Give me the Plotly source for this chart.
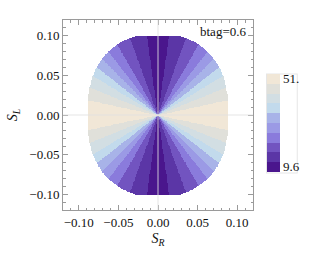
import numpy as np
import plotly.graph_objects as go

# ---- data ----
# angle (deg, measured from the S_R axis) where the colour band changes
band_edges_deg = [12, 22, 31, 38, 45, 52, 60, 70, 82]
# band value from horizontal (high) to vertical (low)
band_values = [48.93, 44.79, 40.65, 36.51, 32.37, 28.23, 24.09, 19.95, 15.81, 11.67]
# colours of the legend bands, from low to high
band_colors = ["#4A168D", "#5B36A6", "#7254C0", "#8A7BDC", "#9B9AE5",
               "#A8B3E8", "#C2DAEC", "#D2DEE3", "#E0E0DA", "#F1E7D7"]
zmin_val, zmax_val = 9.6, 51.0
cbar_tickvals = [11.67, 48.93]
cbar_ticktext = ["9.6", "51."]
x_ticks = [-0.10, -0.05, 0.00, 0.05, 0.10]
y_ticks = [-0.10, -0.05, 0.00, 0.05, 0.10]
label_text = "btag=0.6"

# region shape (allowed domain)
ax_r, ay_r, px_exp, py_exp, y_clip = 0.089, 0.104, 2.0, 2.6, 0.1

xs = np.linspace(-0.09, 0.09, 241)
ys = np.linspace(-0.101, 0.101, 271)
X, Y = np.meshgrid(xs, ys)
theta = np.degrees(np.arctan2(np.abs(Y), np.abs(X)))
idx = np.searchsorted(np.array(band_edges_deg), theta)
Z = np.array(band_values)[idx].astype(float)
inside = ((np.abs(X) / ax_r) ** px_exp + (np.abs(Y) / ay_r) ** py_exp <= 1.0) & (np.abs(Y) <= y_clip)
Z[~inside] = np.nan

n = len(band_colors)
cs = []
for k, c in enumerate(band_colors):
    cs.append([k / n, c])
    cs.append([(k + 1) / n, c])

serif = "Liberation Serif"

fig = go.Figure()
fig.add_trace(go.Heatmap(
    x=xs, y=ys, z=Z, zmin=zmin_val, zmax=zmax_val, colorscale=cs,
    zsmooth=False, hoverinfo="skip",
    colorbar=dict(
        x=1.074, xanchor="left", xpad=0, y=0.459, yanchor="middle", ypad=0,
        len=98, lenmode="pixels", thickness=13, thicknessmode="pixels",
        outlinewidth=0, tickvals=cbar_tickvals, ticktext=cbar_ticktext,
        ticks="", ticklabelposition="outside",
        tickfont=dict(family=serif, size=13, color="#111"),
        bordercolor="#e6e6e6", borderwidth=1, bgcolor="white",
    ),
))

frame = "#9a9a9a"
common = dict(
    showgrid=False, zeroline=False, showline=True, linecolor=frame, linewidth=1,
    mirror="allticks", ticks="inside", ticklen=5, tickcolor=frame, tickwidth=1,
    tickformat=".2f", range=[-0.12, 0.12], automargin=False,
    tickfont=dict(family=serif, size=13, color="#111"),
    minor=dict(dtick=0.01, ticks="inside", ticklen=2.5, tickcolor=frame, tickwidth=1),
)
fig.update_xaxes(**common, tickvals=x_ticks,
                 title=dict(text="<i>S</i><sub><i>R</i></sub>", standoff=4,
                            font=dict(family=serif, size=14, color="#111")))
fig.update_yaxes(**common, tickvals=y_ticks,
                 title=dict(text="<i>S</i><sub><i>L</i></sub>", standoff=8,
                            font=dict(family=serif, size=14, color="#111")))

# axis lines through the origin
fig.add_shape(type="line", x0=0, x1=0, y0=-0.12, y1=0.12, xref="x", yref="y",
              line=dict(color="rgba(225,225,225,0.85)", width=1), layer="above")
fig.add_shape(type="line", x0=-0.12, x1=0.12, y0=0, y1=0, xref="x", yref="y",
              line=dict(color="rgba(225,225,225,0.85)", width=1), layer="above")

fig.add_annotation(text=label_text, xref="paper", yref="paper", x=0.975, y=0.94,
                   xanchor="right", yanchor="middle", showarrow=False,
                   font=dict(family=serif, size=13, color="#111"))

fig.update_layout(
    width=315, height=253, margin=dict(l=63, r=62, t=20, b=43, autoexpand=False),
    paper_bgcolor="white", plot_bgcolor="white", showlegend=False,
    font=dict(family=serif, color="#111"),
)
fig.write_html("out.html", config={"displayModeBar": False},
               post_script="document.body.style.margin='0px';document.body.style.overflow='hidden';")
